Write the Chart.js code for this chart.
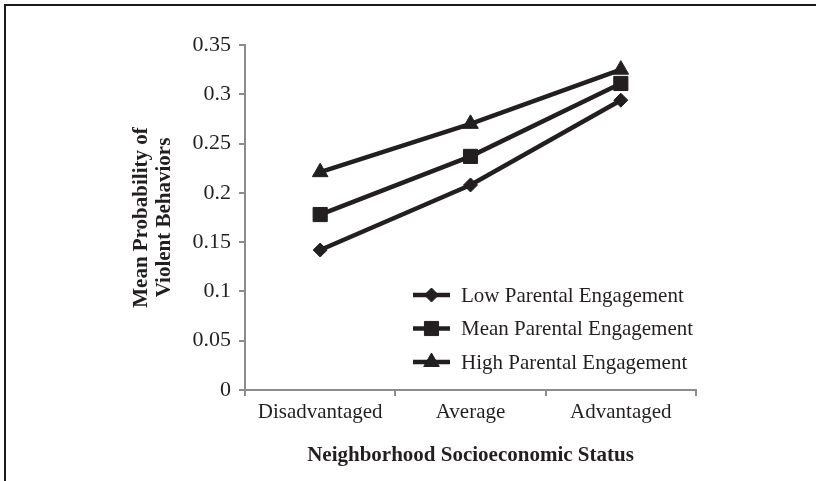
<!DOCTYPE html>
<html>
<head>
<meta charset="utf-8">
<script src="https://cdn.jsdelivr.net/npm/chart.js@4.4.1/dist/chart.umd.min.js"></script>
<style>
  html, body { margin: 0; padding: 0; background: #fff; }
  canvas { display: block; }
</style>
</head>
<body>
<canvas id="grafico" width="816" height="481"></canvas>
<script>
// categorias e valores
const categorias = ["Disadvantaged", "Average", "Advantaged"];
const baixo = [0.142, 0.208, 0.294];
const medio = [0.178, 0.237, 0.311];
const alto = [0.221, 0.270, 0.325];
const nomesSeries = ["Low Parental Engagement", "Mean Parental Engagement", "High Parental Engagement"];
const ticksY = [0, 0.05, 0.1, 0.15, 0.2, 0.25, 0.3, 0.35];

const COR = "#231f20";
const COR_EIXO = "#8c8c8c";
const FONTE = "'Liberation Serif', 'Times New Roman', serif";

// ============================
// moldura (só topo e esquerda)
// ============================
const moldura = {
  id: "moldura",
  beforeDraw(chart) {
    const ctx = chart.ctx;
    ctx.save();
    ctx.strokeStyle = "#1a1a1a";
    ctx.lineWidth = 2;
    ctx.beginPath();
    ctx.moveTo(5, chart.height);
    ctx.lineTo(5, 5);
    ctx.lineTo(chart.width, 5);
    ctx.stroke();
    ctx.restore();
  }
};

// ============================
// legenda dentro da área do gráfico
// ============================
const legendaInterna = {
  id: "legendaInterna",
  afterDatasetsDraw(chart) {
    const ctx = chart.ctx;
    const area = chart.chartArea;
    const x0 = area.left + 168;
    const y0 = area.top + 250;
    ctx.save();
    chart.data.datasets.forEach((ds, i) => {
      const y = y0 + i * 33.5;
      ctx.strokeStyle = ds.borderColor;
      ctx.lineWidth = ds.borderWidth;
      ctx.beginPath();
      ctx.moveTo(x0, y);
      ctx.lineTo(x0 + 37, y);
      ctx.stroke();
      ctx.fillStyle = ds.pointBackgroundColor;
      ctx.strokeStyle = ds.pointBorderColor;
      ctx.lineWidth = 1;
      Chart.helpers.drawPoint(ctx, { pointStyle: ds.pointStyle, radius: ds.pointRadius, rotation: 0, borderWidth: 1 }, x0 + 18.5, y);
      ctx.fillStyle = COR;
      ctx.font = "21px " + FONTE;
      ctx.textBaseline = "middle";
      ctx.textAlign = "left";
      ctx.fillText(ds.label, x0 + 48, y + 1);
    });
    ctx.restore();
  }
};

function serie(label, data, estilo, raio) {
  return {
    label,
    data,
    borderColor: COR,
    borderWidth: 4.5,
    pointStyle: estilo,
    pointRadius: raio,
    pointBackgroundColor: COR,
    pointBorderColor: COR,
    pointBorderWidth: 1,
    tension: 0,
    fill: false
  };
}

new Chart(document.getElementById("grafico").getContext("2d"), {
  type: "line",
  data: {
    labels: categorias,
    datasets: [
      serie(nomesSeries[0], baixo, "rectRot", 7),
      serie(nomesSeries[1], medio, "rect", 10),
      serie(nomesSeries[2], alto, "triangle", 9)
    ]
  },
  options: {
    responsive: false,
    animation: false,
    layout: { padding: { top: 45, right: 120, bottom: 0, left: 0 } },
    plugins: {
      legend: { display: false },
      tooltip: { enabled: false }
    },
    scales: {
      x: {
        offset: true,
        grid: { offset: true, drawOnChartArea: false, tickLength: 6, color: COR_EIXO, lineWidth: 2 },
        border: { color: COR_EIXO, width: 2 },
        ticks: { color: COR, font: { family: FONTE, size: 21 }, padding: 4, maxRotation: 0 },
        title: {
          display: true,
          text: "Neighborhood Socioeconomic Status",
          color: COR,
          font: { family: FONTE, size: 21, weight: "bold" },
          padding: { top: 0, bottom: 13 }
        },
        afterFit: s => { s.height = 91; }
      },
      y: {
        min: 0,
        max: 0.35,
        afterBuildTicks: s => { s.ticks = ticksY.map(v => ({ value: v })); },
        grid: { drawOnChartArea: false, tickLength: 6, color: COR_EIXO, lineWidth: 2 },
        border: { color: COR_EIXO, width: 2 },
        ticks: { color: COR, font: { family: FONTE, size: 22 }, padding: 8, callback: v => String(v) },
        title: {
          display: true,
          text: ["Mean Probability of", "Violent Behaviors"],
          color: COR,
          font: { family: FONTE, size: 21, weight: "bold", lineHeight: 1.1 },
          padding: { top: 130, bottom: 0 }
        },
        afterFit: s => { s.width = 245; }
      }
    }
  },
  plugins: [moldura, legendaInterna]
});
</script>
</body>
</html>
